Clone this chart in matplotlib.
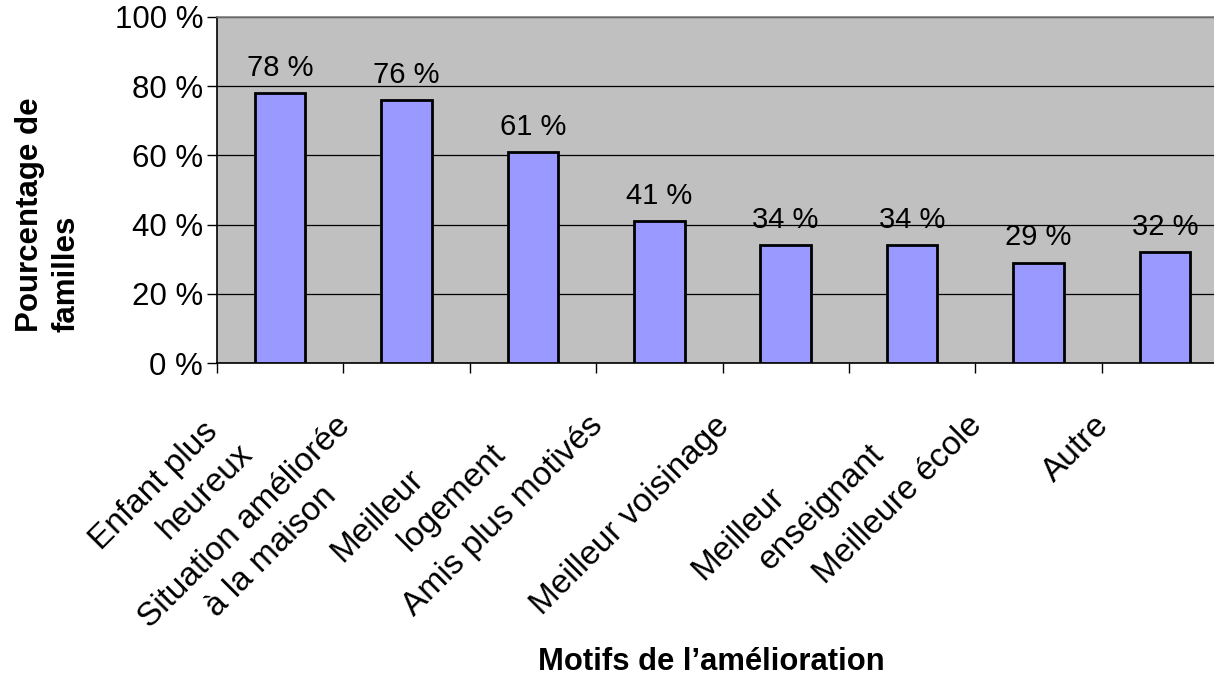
import numpy as np
import matplotlib
matplotlib.use("Agg")
import matplotlib.pyplot as plt
import matplotlib.transforms as mtransforms
from matplotlib.font_manager import FontProperties
from matplotlib.ticker import FuncFormatter

plt.rcParams['font.family'] = ['Liberation Sans', 'DejaVu Sans']

categories = ["Enfant plus\nheureux", "Situation améliorée\nà la maison",
              "Meilleur\nlogement", "Amis plus motivés", "Meilleur voisinage",
              "Meilleur\nenseignant", "Meilleure école", "Autre"]
values = [78, 76, 61, 41, 34, 34, 29, 32]
y_ticks = [0, 20, 40, 60, 80, 100]
y_title = "Pourcentage de\nfamilles"
x_title = "Motifs de l’amélioration"

W, H = 1214, 678
fig = plt.figure(figsize=(W / 100, H / 100), dpi=100)
ax = fig.add_axes([217 / W, 1 - 363 / H, 1011 / W, 346 / H])
ax.set_facecolor('#C0C0C0')

x = np.arange(len(categories))
bars = ax.bar(x, values, width=0.4, color='#9999FF', edgecolor='black',
              linewidth=2.0, zorder=3)

ax.set_xlim(-0.5, len(categories) - 0.5)
ax.set_ylim(0, 100)
ax.set_yticks(y_ticks)
ax.yaxis.set_major_formatter(FuncFormatter(lambda v, _: f"{v:.0f} %"))
ax.tick_params(axis='y', direction='out', length=7, width=1, pad=3,
               labelsize=22.5, colors='black')
ax.set_xticks(np.arange(-0.5, len(categories), 1))
ax.set_xticklabels([])
ax.tick_params(axis='x', direction='out', length=7, width=1, color='black')

ax.yaxis.grid(True, color='black', linewidth=0.9)
ax.set_axisbelow(True)
ax.spines['top'].set_color('#808080')
ax.spines['right'].set_color('#808080')
ax.spines['left'].set_color('black')
ax.spines['bottom'].set_color('black')
for s in ax.spines.values():
    s.set_linewidth(1.2)

for xi, v in zip(x, values):
    ax.annotate(f"{v} %", xy=(xi, v), xytext=(0, 12.5), textcoords='offset points',
                ha='center', va='baseline', fontsize=21, color='black')

# rotated category labels (Excel-like layout: each wrapped line shifted sideways)
fig.canvas.draw()
renderer = fig.canvas.get_renderer()
prop = FontProperties(family='Liberation Sans', size=24)
s2 = np.sqrt(2)
T, v0, step_u, step_v = -84.0, -2.0, 55.0, 40.0
for i, lab in enumerate(categories):
    lines = lab.split("\n")
    widths = [renderer.get_text_width_height_descent(l, prop, ismath=False)[0] for l in lines]
    uS = T - max(j * step_u + w for j, w in enumerate(widths))
    for j, l in enumerate(lines):
        u = uS + j * step_u
        v = v0 + j * step_v
        dx = (u + v) / s2
        dy = (u - v) / s2
        tr = ax.get_xaxis_transform() + mtransforms.Affine2D().translate(dx, dy)
        ax.text(i, 0, l, transform=tr, rotation=45, rotation_mode='anchor',
                ha='left', va='center', fontproperties=prop, clip_on=False)

fig.text(48 / W, 1 - 215 / H, y_title, rotation=90, ha='center', va='center',
         multialignment='left', fontsize=22.5, fontweight='bold', linespacing=1.3)
fig.text(711 / W, 1 - 677 / H, x_title, ha='center', va='bottom',
         fontsize=22.3, fontweight='bold')

fig.savefig("out.png", dpi=100)
